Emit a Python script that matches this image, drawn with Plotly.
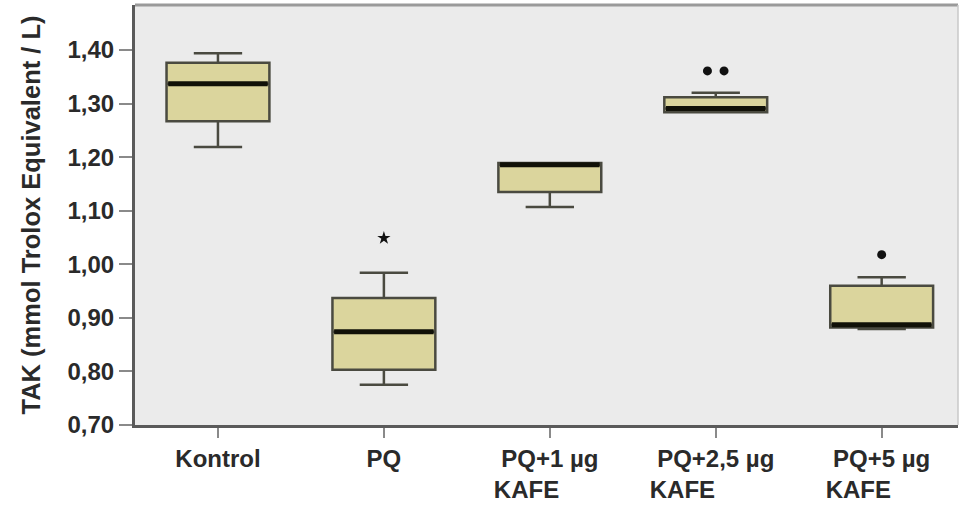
import plotly.graph_objects as go

categories = ["Kontrol", "PQ", "PQ+1 µg<br>KAFE", "PQ+2,5 µg<br>KAFE", "PQ+5 µg<br>KAFE"]
tick_text = ["Kontrol", "PQ",
             "PQ+1 µg<br>KAFE" + "\u00a0" * 7,
             "PQ+2,5 µg<br>KAFE" + "\u00a0" * 10,
             "PQ+5 µg<br>KAFE" + "\u00a0" * 7]
upper_whisker = [1.394, 0.984, 1.189, 1.320, 0.976]
q3_vals = [1.376, 0.937, 1.189, 1.312, 0.960]
median_vals = [1.337, 0.874, 1.186, 1.291, 0.887]
q1_vals = [1.267, 0.803, 1.135, 1.284, 0.882]
lower_whisker = [1.219, 0.775, 1.107, 1.284, 0.879]

# extreme value (*) and outliers (o)
extreme_cat = [1]
extreme_val = [1.049]
outlier_cat = [3, 3, 4]
outlier_val = [1.361, 1.361, 1.018]
outlier_shift = [-0.05, 0.05, 0.0]

y_ticks = [0.70, 0.80, 0.90, 1.00, 1.10, 1.20, 1.30, 1.40]

pos = list(range(len(categories)))
box_w = 0.62

fig = go.Figure()
fig.add_trace(go.Box(
    x=pos, q1=q1_vals, median=median_vals, q3=q3_vals,
    lowerfence=lower_whisker, upperfence=upper_whisker,
    width=box_w, whiskerwidth=0.47,
    fillcolor="#dbd59d", line=dict(color="#4a4a40", width=2.5),
    showlegend=False, hoverinfo="skip"))

mx, my = [], []
for p, m in zip(pos, median_vals):
    mx += [p - box_w / 2 + 0.01, p + box_w / 2 - 0.01, None]
    my += [m, m, None]
fig.add_trace(go.Scatter(x=mx, y=my, mode="lines",
                         line=dict(color="#111108", width=5),
                         showlegend=False, hoverinfo="skip"))

fig.add_trace(go.Scatter(x=extreme_cat, y=extreme_val, mode="markers",
                         marker=dict(symbol="star", size=10, color="#111"),
                         showlegend=False))
fig.add_trace(go.Scatter(x=[c + s for c, s in zip(outlier_cat, outlier_shift)],
                         y=outlier_val, mode="markers",
                         marker=dict(symbol="circle", size=9, color="#111"),
                         showlegend=False))

fig.update_layout(
    width=961, height=509,
    margin=dict(l=135, r=3, t=5, b=84),
    paper_bgcolor="white", plot_bgcolor="#ebebeb",
    separators=",.",
    font=dict(family="Liberation Sans, Arial, sans-serif", color="#2a2a2a"),
    xaxis=dict(
        range=[-0.5, 4.46], tickmode="array", tickvals=pos, ticktext=tick_text,
        showgrid=False, zeroline=False,
        showline=True, linecolor="#5a5a5a", linewidth=3,
        ticks="outside", ticklen=10, tickwidth=2, tickcolor="#8a8a8a",
        tickfont=dict(size=24, weight="bold", color="#2a2a2a"),
    ),
    yaxis=dict(
        range=[0.70, 1.484], tickmode="array", tickvals=y_ticks, tickformat=".2f",
        showgrid=False, zeroline=False,
        showline=True, linecolor="#5a5a5a", linewidth=3,
        ticks="outside", ticklen=13, tickwidth=2, tickcolor="#8a8a8a",
        tickfont=dict(size=24, weight="bold", color="#2a2a2a"),
        title=dict(text="TAK (mmol Trolox Equivalent / L)" + "\u00a0" * 3,
                   font=dict(size=25.5, weight="bold", color="#2a2a2a"), standoff=20),
    ),
    shapes=[
        dict(type="line", xref="paper", yref="paper", x0=0, x1=1, y0=1, y1=1,
             line=dict(color="#9a9a9a", width=3)),
        dict(type="line", xref="paper", yref="paper", x0=1, x1=1, y0=0, y1=1,
             line=dict(color="#c8c8c8", width=1.5)),
    ],
)

fig.write_html("out.html")
